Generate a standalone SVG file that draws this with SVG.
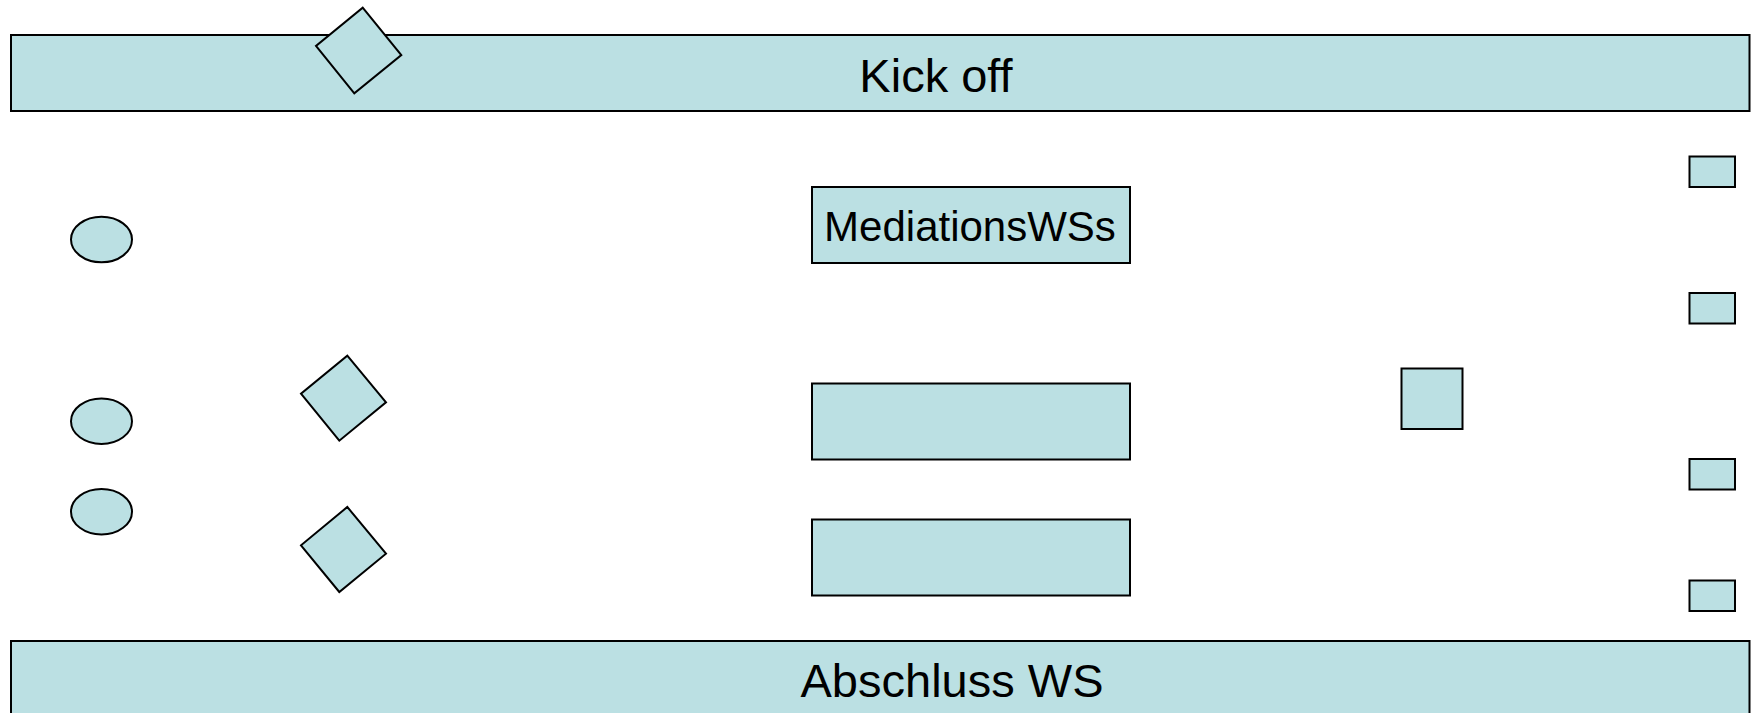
<svg xmlns="http://www.w3.org/2000/svg" width="1758" height="713" viewBox="0 0 1758 713">
  <style>
    .shape { fill: #bbe0e3; stroke: #000000; stroke-width: 2; }
    .label { font-family: "Liberation Sans", Arial, sans-serif; fill: #000000; text-anchor: middle; }
  </style>
  <rect x="0" y="0" width="1758" height="713" fill="#ffffff"/>

  <!-- phase bars -->
  <g id="kickoff">
    <rect class="shape" x="11" y="35" width="1738.5" height="76"/>
    <text class="label" x="936" y="92" font-size="47">Kick off</text>
  </g>
  <g id="abschluss">
    <rect class="shape" x="11" y="641" width="1738.5" height="80"/>
    <text class="label" x="952" y="697" font-size="47">Abschluss WS</text>
  </g>

  <!-- tilted squares -->
  <g id="diamond-top">
    <polygon class="shape" points="362.7,7.7 401.3,55 354.3,93.3 316,46"/>
  </g>
  <g id="diamond-mid">
    <polygon class="shape" points="347.3,355.7 386,402.3 339.3,440.7 301,393.7"/>
  </g>
  <g id="diamond-low">
    <polygon class="shape" points="347.3,507 386,553.7 339.3,592 301,545.3"/>
  </g>

  <!-- ellipses -->
  <g id="ellipse-1"><ellipse class="shape" cx="101.5" cy="239.5" rx="30.5" ry="22.8"/></g>
  <g id="ellipse-2"><ellipse class="shape" cx="101.5" cy="421.2" rx="30.5" ry="22.8"/></g>
  <g id="ellipse-3"><ellipse class="shape" cx="101.5" cy="511.7" rx="30.5" ry="22.8"/></g>

  <!-- central workshop boxes -->
  <g id="mediations">
    <rect class="shape" x="812" y="187" width="318" height="76"/>
    <text class="label" x="970" y="241" font-size="42">MediationsWSs</text>
  </g>
  <g id="box-2"><rect class="shape" x="812" y="383.5" width="318" height="76"/></g>
  <g id="box-3"><rect class="shape" x="812" y="519.5" width="318" height="76"/></g>

  <!-- square -->
  <g id="square"><rect class="shape" x="1401.5" y="368.5" width="61" height="60.5"/></g>

  <!-- small right-hand boxes -->
  <g id="small-1"><rect class="shape" x="1689.5" y="156.5" width="45.5" height="30.5"/></g>
  <g id="small-2"><rect class="shape" x="1689.5" y="293" width="45.5" height="30.5"/></g>
  <g id="small-3"><rect class="shape" x="1689.5" y="459" width="45.5" height="30.5"/></g>
  <g id="small-4"><rect class="shape" x="1689.5" y="580.5" width="45.5" height="30.5"/></g>

  <!-- no connectors are drawn -->
  <g id="connectors"/>
</svg>
